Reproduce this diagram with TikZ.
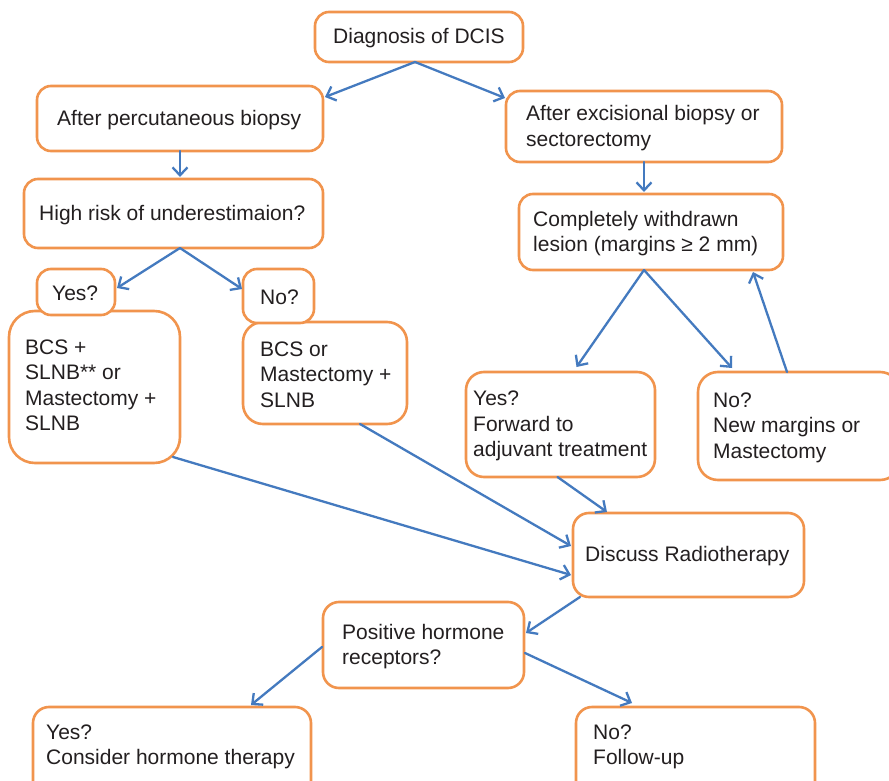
\documentclass[tikz,border=0pt]{standalone}
\usepackage{fontspec}
\setmainfont{Liberation Sans}
\usetikzlibrary{arrows.meta,calc}
\definecolor{boxline}{RGB}{241,148,77}
\definecolor{flow}{RGB}{68,122,191}
\definecolor{ink}{RGB}{35,31,32}
\tikzset{
  box/.style={draw=boxline, line width=2.6pt, fill=white, rounded corners=14pt,
              inner sep=0pt, outer sep=0pt},
  txt/.style={anchor=west, align=left, inner sep=0pt, text=ink, yshift=-1.5pt,
              font=\fontsize{21}{25.5}\selectfont},
  flowarrow/.style={draw=flow, line width=2.3pt, line cap=round,
              -{Straight Barb[length=8pt,width=15pt,line width=2.3pt]}}
}
\begin{document}
\begin{tikzpicture}[x=1pt,y=-1pt]
\useasboundingbox (0,0) rectangle (889,781);
\clip (0,0) rectangle (889,781);
\fill[white] (0,0) rectangle (889,781);

% boxes
\node[box, minimum width=208pt, minimum height=50pt] (dcis) at (419,37) {};
\node[txt] (dcis-t) at ($(dcis.west)+(18,0)$) {Diagnosis of DCIS};

\node[box, minimum width=286pt, minimum height=65pt] (perc) at (180,118.5) {};
\node[txt] (perc-t) at ($(perc.west)+(20,0)$) {After percutaneous biopsy};

\node[box, minimum width=276pt, minimum height=71pt] (exc) at (644,126.5) {};
\node[txt] (exc-t) at ($(exc.west)+(20,0)$) {After excisional biopsy or\\sectorectomy};

\node[box, minimum width=299pt, minimum height=69pt] (risk) at (173.5,213.5) {};
\node[txt] (risk-t) at ($(risk.west)+(15,0)$) {High risk of underestimaion?};

\node[box, minimum width=264pt, minimum height=76pt] (compl) at (651,232) {};
\node[txt] (compl-t) at ($(compl.west)+(14,0)$) {Completely withdrawn\\lesion (margins ≥ 2 mm)};

\node[box, rounded corners=26pt, minimum width=171pt, minimum height=152pt] (bcsa) at (94.5,387) {};
\node[txt] (bcsa-t) at ($(bcsa.west)+(16,-3)$) {BCS +\\SLNB** or\\Mastectomy +\\SLNB};

\node[box, minimum width=78pt, minimum height=46pt] (yesa) at (76,292) {};
\node[txt] (yesa-t) at ($(yesa.west)+(15,0)$) {Yes?};

\node[box, rounded corners=20pt, minimum width=164pt, minimum height=102pt] (bcsb) at (325,373) {};
\node[txt] (bcsb-t) at ($(bcsb.west)+(17,0)$) {BCS or\\Mastectomy +\\SLNB};

\node[box, minimum width=71pt, minimum height=54pt] (noa) at (278.5,296) {};
\node[txt] (noa-t) at ($(noa.west)+(17,0)$) {No?};

\node[box, rounded corners=18pt, minimum width=189pt, minimum height=105pt] (fwd) at (560.5,424.5) {};
\node[txt] (fwd-t) at ($(fwd.west)+(7,0)$) {Yes?\\Forward to\\adjuvant treatment};

\node[box, rounded corners=20pt, minimum width=202pt, minimum height=108pt] (newm) at (799,426) {};
\node[txt] (newm-t) at ($(newm.west)+(15,0)$) {No?\\New margins or\\Mastectomy};

\node[box, rounded corners=16pt, minimum width=231pt, minimum height=84pt] (radio) at (688.5,555) {};
\node[txt] (radio-t) at ($(radio.west)+(12,0)$) {Discuss Radiotherapy};

\node[box, rounded corners=16pt, minimum width=201pt, minimum height=86pt] (horm) at (423.5,645) {};
\node[txt] (horm-t) at ($(horm.west)+(19,0)$) {Positive hormone\\receptors?};

\node[box, rounded corners=16pt, minimum width=278pt, minimum height=90pt] (yesc) at (172,752) {};
\node[txt] (yesc-t) at ($(yesc.west)+(13,-6.5)$) {Yes?\\Consider hormone therapy};

\node[box, rounded corners=16pt, minimum width=239pt, minimum height=90pt] (fu) at (695.5,752) {};
\node[txt] (fu-t) at ($(fu.west)+(17,-6.5)$) {No?\\Follow-up};

% connectors
\coordinate (dcis-out) at ($(dcis.south)+(-4,0)$);
\draw[flowarrow] (dcis-out) -- ($(perc.north east)+(2,11)$);
\draw[flowarrow] (dcis-out) -- ($(exc.north west)+(-1,7)$);

\draw[flowarrow] (perc.south) -- ($(perc.south |- risk.north)+(0,-2)$);
\draw[flowarrow] (exc.south) -- ($(exc.south |- compl.north)+(0,-2)$);

\coordinate (risk-out) at ($(risk.south)+(6.5,0)$);
\draw[flowarrow] (risk-out) -- ($(yesa.east)+(2,-4)$);
\draw[flowarrow] (risk-out) -- ($(noa.west)+(-1,-7)$);

\coordinate (compl-out) at ($(compl.south)+(-7,0)$);
\draw[flowarrow] (compl-out) -- ($(fwd.north)+(16,-5)$);
\draw[flowarrow] (compl-out) -- ($(newm.north west)+(34,-4)$);
\draw[flowarrow] ($(newm.north west)+(89,0)$) -- ($(compl.south east)+(-30,2)$);

\draw[flowarrow] ($(bcsa.south east)+(-7,-6)$) -- ($(radio.west)+(-2,20)$);
\draw[flowarrow] ($(bcsb.south)+(35,0)$) -- ($(radio.west)+(-2,-9)$);
\draw[flowarrow] ($(fwd.south)+(-3,0)$) -- ($(radio.north west)+(34,-1)$);

\draw[flowarrow] ($(radio.south west)+(7,0)$) -- ($(horm.east)+(2,-12)$);
\draw[flowarrow] ($(horm.west)+(-1,2)$) -- ($(yesc.north west)+(218,-2)$);
\draw[flowarrow] ($(horm.east)+(1,8)$) -- ($(fu.north west)+(56,-4)$);
\end{tikzpicture}
\end{document}
